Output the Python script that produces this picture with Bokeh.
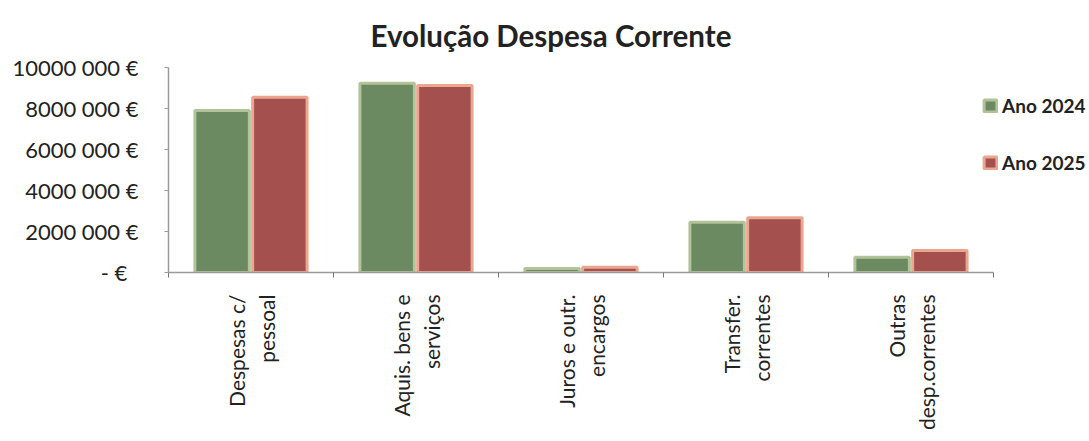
import numpy as np
from bokeh.plotting import figure
from bokeh.models import ColumnDataSource, FixedTicker, Legend, LegendItem, Range1d
from bokeh.embed import file_html
from bokeh.resources import INLINE

categories = ["Despesas c/\npessoal", "Aquis. bens e\nserviços", "Juros e outr.\nencargos",
              "Transfer.\ncorrentes", "Outras\ndesp.correntes"]
ano_2024 = [7900000, 9230000, 200000, 2450000, 750000]
ano_2025 = [8550000, 9120000, 260000, 2670000, 1070000]
y_ticks = [0, 2000000, 4000000, 6000000, 8000000, 10000000]
y_tick_labels = ["-   €", "2000 000 €", "4000 000 €", "6000 000 €", "8000 000 €", "10000 000 €"]
series_names = ["Ano 2024", "Ano 2025"]

FONT = "Lato"
n = len(categories)
idx = np.arange(n)
centers = idx + 0.5

src = ColumnDataSource(dict(x24=centers - 0.175, x25=centers + 0.175, a24=ano_2024, a25=ano_2025))

p = figure(width=1089, height=441, output_backend="svg", toolbar_location=None,
           x_range=Range1d(0, n * 921 / 825), y_range=Range1d(0, 10000000),
           min_border_left=168, min_border_right=0, min_border_top=67, min_border_bottom=169)

r24 = p.vbar(x="x24", top="a24", width=0.33, source=src, fill_color="#6b8a62",
             line_color="#b2c299", line_width=3)
r25 = p.vbar(x="x25", top="a25", width=0.33, source=src, fill_color="#a3504f",
             line_color="#eba690", line_width=3)

p.title.text = "Evolução Despesa Corrente"
p.title.align = "left"
p.title.offset = 202
p.title.text_font = FONT
p.title.text_font_size = "29.5px"
p.title.text_font_style = "bold"
p.title.text_color = "#222222"
p.title.standoff = 30

p.xgrid.visible = False
p.ygrid.visible = False
p.outline_line_color = None

xa = p.xaxis[0]
xa.bounds = (0, n)
xa.ticker = FixedTicker(ticks=list(centers), minor_ticks=list(range(n + 1)))
xa.major_label_overrides = {float(c): lab for c, lab in zip(centers, categories)}
xa.major_label_orientation = np.pi / 2
xa.major_tick_line_color = None
xa.major_tick_out = 0
xa.major_tick_in = 0
xa.minor_tick_line_color = "#777777"
xa.minor_tick_out = 5
xa.minor_tick_in = 0
xa.axis_line_color = "#9a9a9a"
xa.axis_line_width = 1.5
xa.major_label_text_font = FONT
xa.major_label_text_font_size = "21px"
xa.major_label_text_color = "#222222"
xa.major_label_standoff = 17

ya = p.yaxis[0]
ya.ticker = FixedTicker(ticks=y_ticks, minor_ticks=[])
ya.major_label_overrides = {float(t): lab for t, lab in zip(y_ticks, y_tick_labels)}
ya.major_label_text_font = FONT
ya.major_label_text_font_size = "22px"
ya.major_label_text_color = "#222222"
ya.axis_line_color = "#9a9a9a"
ya.axis_line_width = 1.5
ya.major_tick_line_color = "#9a9a9a"
ya.major_tick_out = 4
ya.major_tick_in = 0
ya.major_label_standoff = 26

legend = Legend(items=[LegendItem(label=series_names[0], renderers=[r24]),
                       LegendItem(label=series_names[1], renderers=[r25])],
                location=(814, 98), orientation="vertical",
                label_text_font=FONT, label_text_font_size="19px", label_text_font_style="bold",
                label_text_color="#222222", glyph_width=16, glyph_height=15, label_height=20,
                spacing=34, padding=0, margin=0, border_line_color=None,
                background_fill_alpha=0, label_standoff=4)
p.add_layout(legend, "center")

open("out.html", "w").write(file_html(p, INLINE))
